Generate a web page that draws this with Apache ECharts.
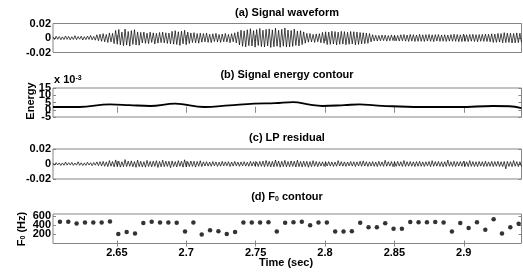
<!DOCTYPE html>
<html>
<head>
<meta charset="utf-8">
<script src="https://cdn.jsdelivr.net/npm/echarts@6/dist/echarts.min.js"></script>
<style>
html, body { margin: 0; padding: 0; background: #fff; }
#chart { width: 523px; height: 274px; }
</style>
</head>
<body>
<div id="chart"></div>
<script>
/* time axis (sec) shared by the four panels */
var timeMin = 2.604;
var timeMax = 2.9416;
var timeTicks = [2.65, 2.7, 2.75, 2.8, 2.85, 2.9];

/* (a) speech samples, x 10^-3, one every waveStep sec from timeMin */
var waveStep = 0.001129;
var signalWave = [
    1.5,-2,2.5,-1.8,2,-2.4,1.6,-2.2,2.8,-1.9,
    2.2,-2.6,1.8,-2.1,3.2,-2.4,2,-1.7,2.5,-2.8,
    1.9,-2.3,2.7,-2,3.5,-2.6,2.2,-3,4.5,-3.8,
    5.2,-4.6,6,-5.3,4.8,-6.2,7,-5.5,6.4,-7.8,
    10.5,-8.6,11.8,-9.4,8.2,-10.6,12.4,-9.8,9,-11.2,
    10.2,-8.8,11.5,-9.6,8.4,-10,7.8,-6.9,8.2,-7.4,
    6.6,-7.8,8,-6.2,7.1,-8.3,6.5,-7,7.6,-6.4,
    8.1,-6.8,7.2,-7.5,6.9,-8,9.2,-8.5,10.1,-9,
    8.6,-10.2,9.4,-8.1,10.6,-9.3,8.2,-7.6,7,-6.3,
    7.4,-6.8,6.1,-7.2,6.6,-5.8,6.2,-5.4,6.8,-6,
    5.2,-6.4,5.8,-5,6.5,-5.6,4.9,-6.1,5.5,-5.2,
    6.3,-5.7,5,-6.6,5.9,-5.3,7.2,-6.8,8.5,-9.6,
    10.8,-11.5,9.9,-12.2,11.4,-10.6,12.8,-11,10.2,-12.6,
    11.6,-10.4,13.2,-11.8,10.7,-12.4,11.9,-10.9,12.6,-13,
    11.2,-12.1,13.5,-11.4,10.6,-12.8,12,-11.3,13.8,-12.5,
    11,-12.3,10.4,-11.6,12.2,-10.2,9.6,-11,10.1,-9.2,
    8.4,-7.2,6.5,-5.8,6.2,-5.4,5,-6.1,5.6,-5.2,
    6,-6.6,7.8,-7.2,8.6,-9.1,8.2,-8.8,9.4,-8.3,
    8.9,-9.6,8.1,-8.7,9.2,-8.4,8.8,-9.3,8,-8.6,
    9,-8.2,8.6,-9.4,8.3,-8.9,7.6,-8.1,7.2,-7.8,
    6.8,-7.3,6.2,-5.4,4.6,-4.1,3.8,-4.2,3.5,-3.9,
    4.1,-3.6,3.9,-4.3,3.4,-3.8,4.2,-3.5,3.7,-4,
    3.6,-4.2,4.5,-3.9,4.8,-4.4,4.1,-4.7,5,-4.3,
    4.6,-4.9,4.2,-4.5,5.1,-4.6,4.4,-4.8,4.7,-4.2,
    4.9,-4.5,4.3,-5,4.6,-4.1,4.8,-4.6,4.2,-4.4,
    4.5,-4.8,4.1,-4.3,4.7,-4.5,5.2,-4.6,4.8,-5.1,
    4.4,-4.9,5.3,-4.7,4.5,-5,4.9,-4.4,5.1,-4.8,
    4.6,-5.2,4.8,-4.5,5,-4.7,5.4,-4.9,5.1,-5.3,
    5.8,-6.2,5.5,-6,6.4,-5.7,6.1,-6.6,7.4,-6.3,
    6.8,-6.1,6.5,-6.9,6.2,-6.7,7,-6.4,6.6,-6
];

/* (b) energy contour, x 10^-3 */
var energyTimes = [2.604, 2.623, 2.645, 2.659, 2.674, 2.692, 2.713, 2.731, 2.749, 2.764, 2.777,
    2.789, 2.798, 2.814, 2.825, 2.836, 2.849, 2.873, 2.897, 2.921, 2.933, 2.9416];
var energyValues = [1.9, 1.9, 3.7, 3.2, 2.6, 4.2, 1.9, 3.0, 4.2, 4.5, 5.3,
    3.5, 2.6, 3.2, 3.7, 3.0, 2.4, 1.9, 1.9, 2.6, 2.4, 1.2];

/* (c) LP residual, x 10^-3, same sampling as signalWave */
var lpResidual = [
    1.2,-1.6,1.9,-1.3,1.5,-2,1.4,-1.7,2.6,-1.5,
    1.8,-1.4,2.2,-1.9,1.3,-1.6,2.9,-1.8,1.6,-2.1,
    1.5,-1.9,2.4,-1.4,1.7,-2.3,1.9,-1.6,2.8,-2.2,
    3.1,-2.6,3.4,-3,2.8,-3.5,4.6,-2.9,3.3,-3.8,
    5.4,-3.2,3.7,-4.1,3,-3.6,5.9,-3.4,3.8,-3.1,
    4.2,-3.7,3.2,-4.4,5.2,-3.5,3.6,-3.9,3.1,-4.2,
    4.8,-3.3,3.5,-3.8,3.9,-3.2,4.4,-4.6,3.4,-3.7,
    5.1,-3.6,3.8,-3.3,3.6,-4.9,4.1,-3.4,3.2,-3.9,
    4.5,-3.1,3.7,-4.2,5.6,-3.8,3.3,-3.5,4,-3.2,
    3.6,-4.1,3.4,-3,4.3,-3.4,2.9,-2.7,3.1,-2.8,
    2.6,-3,3.3,-2.5,2.8,-3.2,2.4,-2.9,3.5,-2.6,
    2.9,-2.4,3.1,-3.3,2.7,-2.8,3.4,-2.5,2.6,-3.1,
    2.8,-2.6,3.2,-2.9,2.5,-3,3.6,-2.7,3,-2.8,
    2.9,-3.3,3.5,-3.1,3.8,-3.6,4.7,-3.2,3.5,-3.9,
    3.4,-3.7,5.3,-3.3,3.9,-4.2,3.6,-3.4,4.8,-3.8,
    3.3,-3.6,4.1,-3.2,3.7,-4,5.1,-3.5,3.4,-3.9,
    3.8,-3.3,3.6,-4.3,3.2,-3.5,4.4,-3.1,3.3,-3.6,
    3,-2.8,2.9,-3.1,2.7,-2.6,3.2,-2.9,2.8,-3.3,
    2.6,-3,4.5,-2.7,3.1,-2.9,2.8,-3.2,2.7,-2.6,
    3.3,-2.8,3,-3.4,2.9,-2.7,3.5,-3,4.2,-2.8,
    3.1,-3.3,2.8,-2.9,3.2,-3.1,2.7,-3.4,3.6,-2.9,
    2.8,-3.2,4.9,-3,3.1,-2.8,3.3,-3.5,2.9,-3.1,
    3.4,-2.8,3,-3.3,4.6,-3.2,3.1,-2.9,3.3,-3,
    2.9,-3.4,3.2,-3,3.6,-3.1,2.8,-3.3,3,-2.7,
    3.3,-3.5,4.4,-3.1,3.2,-2.9,3.4,-3.2,3,-3.6,
    3.1,-3.3,5.1,-3,2.9,-3.2,3.5,-3.4,3.1,-2.8,
    3.3,-3,3.6,-3.2,2.9,-3.4,4.5,-3.1,3.2,-3.3,
    3,-3.5,3.4,-2.9,3.1,-3.3,3.7,-3.2,2.8,-3.1,
    3.5,-3.4,3.2,-3,3.6,-3.3,3,-3.5,3.3,-6.4,
    3.4,-3.2,3.1,-3.5,4.6,-3,3.2,-3.4,3,-3.3
];

/* (d) F0 per 6 ms frame (Hz) */
var f0Start = 2.609;
var f0Step = 0.00601;
var f0Values = [
    470, 472, 432, 458, 458, 458, 475, 205, 250, 215,
    445, 472, 458, 458, 450, 258, 455, 195, 285, 265,
    205, 250, 458, 458, 458, 460, 262, 450, 460, 470,
    395, 455, 455, 262, 262, 268, 450, 352, 352, 440,
    318, 318, 465, 460, 460, 465, 455, 262, 445, 338,
    462, 300, 525, 215, 355, 430
];

/* y ticks; crowded labels are split over two label axes so none get dropped */
var waveTicks = [-20, 0, 20];
var energyTicksA = [-5, 5, 15];
var energyTicksB = [0, 10];
var f0TicksA = [200, 600];
var f0TicksB = [400];

var frameColor = '#858585';
var boldFont = 'bold 11px "Liberation Sans", Arial, sans-serif';

var panels = [
    {top: 23.5, height: 29, min: -20, max: 20, ticks: waveTicks, label: function (v) { return String(v / 1000); }},
    {top: 88, height: 29, min: -5, max: 15, ticks: energyTicksA, extra: energyTicksB, label: function (v) { return String(v); }},
    {top: 149, height: 30, min: -20, max: 20, ticks: waveTicks, label: function (v) { return String(v / 1000); }},
    {top: 214, height: 29.5, min: 0, max: 640, ticks: f0TicksA, extra: f0TicksB, label: function (v) { return String(v); }}
];

function yAxis(i, p, pos, ticks, showTicks, showLabels) {
    return {
        type: 'value', gridIndex: i, position: pos, min: p.min, max: p.max,
        axisLine: {show: false}, splitLine: {show: false},
        axisTick: {show: showTicks, inside: true, length: 3, customValues: ticks, lineStyle: {color: frameColor}},
        axisLabel: {
            show: showLabels, margin: 2, formatter: p.label, customValues: ticks,
            hideOverlap: false, showMinLabel: true, showMaxLabel: true,
            color: '#000', fontWeight: 'bold', fontSize: 11, fontFamily: '"Liberation Sans", Arial, sans-serif'
        }
    };
}

var grids = [], xAxes = [], yAxes = [], yIndex = [];
panels.forEach(function (p, i) {
    grids.push({
        left: 53, right: 1.5, top: p.top, height: p.height,
        show: true, borderColor: frameColor, borderWidth: 1, backgroundColor: 'transparent',
        containLabel: false, outerBoundsMode: 'none'
    });
    ['bottom', 'top'].forEach(function (pos) {
        xAxes.push({
            type: 'value', gridIndex: i, position: pos, min: timeMin, max: timeMax,
            axisLine: {show: false}, splitLine: {show: false},
            axisTick: {inside: true, length: 3, customValues: timeTicks, lineStyle: {color: frameColor}},
            axisLabel: {
                show: (i === 3 && pos === 'bottom'), customValues: timeTicks, margin: 4,
                color: '#000', fontWeight: 'bold', fontSize: 11, fontFamily: '"Liberation Sans", Arial, sans-serif'
            }
        });
    });
    var allTicks = p.extra ? p.ticks.concat(p.extra) : p.ticks;
    yIndex.push(yAxes.length);
    yAxes.push(yAxis(i, p, 'left', allTicks, true, false));
    yAxes.push(yAxis(i, p, 'right', allTicks, true, false));
    yAxes.push(yAxis(i, p, 'left', p.ticks, false, true));
    if (p.extra) {
        yAxes.push(yAxis(i, p, 'left', p.extra, false, true));
    }
});

function sampled(values, start, step) {
    return values.map(function (v, i) { return [start + i * step, v]; });
}

var series = [
    {
        type: 'line', xAxisIndex: 0, yAxisIndex: yIndex[0], showSymbol: false, sampling: null,
        lineStyle: {color: '#000', width: 0.7}, data: sampled(signalWave, timeMin, waveStep)
    },
    {
        type: 'line', xAxisIndex: 2, yAxisIndex: yIndex[1], showSymbol: false, smooth: 0.4,
        lineStyle: {color: '#000', width: 1.8},
        data: energyTimes.map(function (t, i) { return [t, energyValues[i]]; })
    },
    {
        type: 'line', xAxisIndex: 4, yAxisIndex: yIndex[2], showSymbol: false,
        lineStyle: {color: '#000', width: 0.7}, data: sampled(lpResidual, timeMin, waveStep)
    },
    {
        type: 'scatter', xAxisIndex: 6, yAxisIndex: yIndex[3], symbolSize: 4.5,
        itemStyle: {color: '#000'}, data: sampled(f0Values, f0Start, f0Step)
    }
];

function title(text, y) {
    return {
        type: 'text', x: 287, y: y,
        style: {
            text: text, font: boldFont, fill: '#000', align: 'center', verticalAlign: 'middle',
            rich: {
                n: {font: boldFont, fill: '#000'},
                sub: {fontSize: 7, fontWeight: 'bold', fontFamily: 'Liberation Sans', fill: '#000', verticalAlign: 'bottom'}
            }
        }
    };
}

var graphics = [
    title('(a) Signal waveform', 12.5),
    title('(b) Signal energy contour', 75),
    title('(c) LP residual', 138),
    title('{n|(d) F}{sub|0}{n| contour}', 197),
    {
        type: 'text', x: 54, y: 80,
        style: {
            text: '{n|x 10}{sup|-3}', align: 'left', verticalAlign: 'middle',
            rich: {
                n: {font: boldFont, fill: '#000'},
                sup: {fontSize: 7, fontWeight: 'bold', fontFamily: 'Liberation Sans', fill: '#000', verticalAlign: 'top'}
            }
        }
    },
    {
        type: 'text', x: 31, y: 101, rotation: Math.PI / 2,
        style: {text: 'Energy', font: boldFont, fill: '#000', align: 'center', verticalAlign: 'middle'}
    },
    {
        type: 'text', x: 21.5, y: 229, rotation: Math.PI / 2,
        style: {
            text: '{n|F}{sub|0}{n| (Hz)}', align: 'center', verticalAlign: 'middle',
            rich: {
                n: {font: boldFont, fill: '#000'},
                sub: {fontSize: 7, fontWeight: 'bold', fontFamily: 'Liberation Sans', fill: '#000', verticalAlign: 'bottom'}
            }
        }
    },
    {
        type: 'text', x: 286, y: 263,
        style: {text: 'Time (sec)', font: boldFont, fill: '#000', align: 'center', verticalAlign: 'middle'}
    }
];

var chart = echarts.init(document.getElementById('chart'));
chart.setOption({
    animation: false,
    grid: grids,
    xAxis: xAxes,
    yAxis: yAxes,
    series: series,
    graphic: graphics
});
</script>
</body>
</html>
